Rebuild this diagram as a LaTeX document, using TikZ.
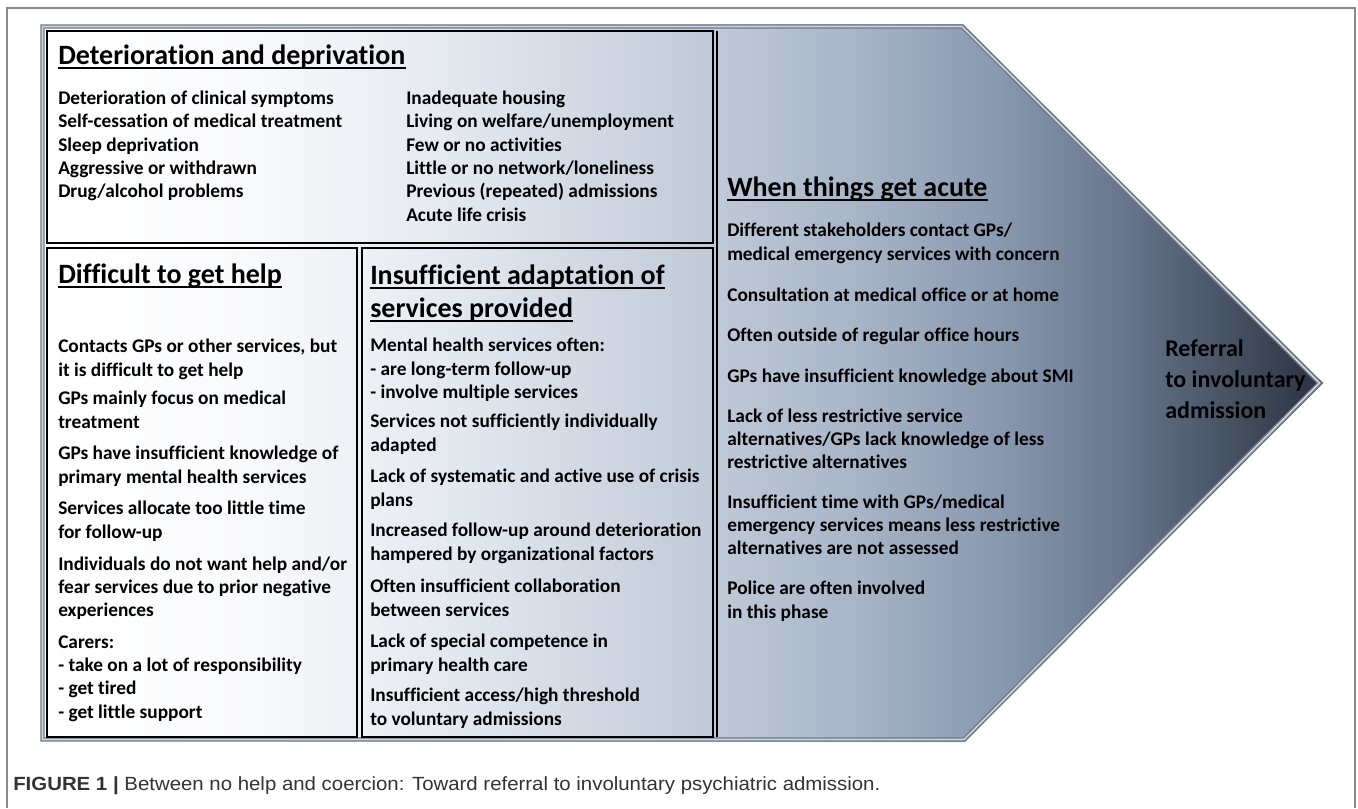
\documentclass[tikz,border=0pt]{standalone}
\usepackage{fontspec}
\setmainfont{Carlito}[Ligatures=NoCommon]
\newfontfamily\capfont[FakeStretch=1.07]{Liberation Sans}
\usetikzlibrary{positioning}
\definecolor{shA}{HTML}{F9FAFC}
\definecolor{shB}{HTML}{E4E9F0}
\definecolor{shC}{HTML}{C2CBD9}
\definecolor{shD}{HTML}{A9B6C8}
\definecolor{shE}{HTML}{8898AF}
\definecolor{shF}{HTML}{68778E}
\definecolor{shG}{HTML}{465161}
\definecolor{shH}{HTML}{2B3241}
\definecolor{bevelout}{HTML}{6E7888}
\definecolor{bevelin}{HTML}{CBD4E1}
\definecolor{framegray}{HTML}{8A8A8A}
\definecolor{captext}{HTML}{333333}
\pgfdeclarehorizontalshading{acuteshade}{100bp}{color(0bp)=(white); color(25bp)=(white);
  color(33bp)=(shA); color(41bp)=(shB); color(50.7bp)=(shC); color(56.6bp)=(shD);
  color(62.4bp)=(shE); color(67.1bp)=(shF); color(71.4bp)=(shG); color(75bp)=(shH);
  color(100bp)=(shH)}
\tikzset{
  heading/.style={anchor=base west, inner sep=0pt, font=\fontsize{21}{25}\selectfont\bfseries},
  entry/.style={anchor=base west, inner sep=0pt, align=left, font=\fontsize{14.5}{17.5}\selectfont\bfseries},
  referral/.style={anchor=base west, inner sep=0pt, align=left, font=\fontsize{18}{23.25}\selectfont\bfseries},
  caption/.style={anchor=base west, inner sep=0pt, text=captext, font=\capfont\fontsize{14.3}{16}\selectfont},
  underbar/.style={line width=1.5pt},
  rule/.style={line width=1.2pt, black},
  bevel/.style={draw=bevelout, double=bevelin, double distance=1.2pt, line width=1pt, line join=miter},
  frame/.style={draw=framegray, line width=1.1pt}
}
\begin{document}
\begin{tikzpicture}[x=0.75pt,y=-0.75pt]
  \useasboundingbox (0,0) rectangle (1358,808);
  \draw[frame] (7,808) -- (7,8) -- (1355,8) -- (1355,808);
  \path[shading=acuteshade] (40,24) -- (963,24) -- (1323,383) -- (965,742) -- (40,742) -- cycle;
  \draw[bevel] (42.5,26.5) -- (962,26.5) -- (1319.5,383) -- (964,739.5) -- (42.5,739.5) -- cycle;
  \begin{scope}[rule]
    \draw (47,31) rectangle (713,243);
    \draw (47,248) rectangle (357,737);
    \draw (362,248) rectangle (713,737);
    \draw (717,31) -- (717,737);
  \end{scope}

  % multi-line nodes sit on the baseline of their last line
  \node[heading] (hdet) at (58,64) {Deterioration and deprivation};
  \node[entry] (dleft) at (58,197.8) {Deterioration of clinical symptoms\\Self-cessation of medical treatment\\Sleep deprivation\\Aggressive or withdrawn\\Drug/alcohol problems};
  \node[entry] (dright) at (406,221.2) {Inadequate housing\\Living on welfare/unemployment\\Few or no activities\\Little or no network/loneliness\\Previous (repeated) admissions\\Acute life crisis};

  \node[heading] (hhelp) at (58,283) {Difficult to get help};
  \node[entry] (help1) at (58,376.3) {Contacts GPs or other services, but\\it is difficult to get help};
  \node[entry] (help2) at (58,428.3) {GPs mainly focus on medical\\treatment};
  \node[entry] (help3) at (58,483.3) {GPs have insufficient knowledge of\\primary mental health services};
  \node[entry] (help4) at (58,538.3) {Services allocate too little time\\for follow-up};
  \node[entry] (help5) at (58,616.7) {Individuals do not want help and/or\\fear services due to prior negative\\experiences};
  \node[entry] (help6) at (58,718) {Carers:\\- take on a lot of responsibility\\- get tired\\- get little support};

  \node[heading] (hadapt1) at (370,284) {Insufficient adaptation of};
  \node[heading] (hadapt2) at (370,317) {services provided};
  \node[entry] (adapt1) at (370,398.5) {Mental health services often:\\- are long-term follow-up\\- involve multiple services};
  \node[entry] (adapt2) at (370,451.3) {Services not sufficiently individually\\adapted};
  \node[entry] (adapt3) at (370,506.3) {Lack of systematic and active use of crisis\\plans};
  \node[entry] (adapt4) at (370,560.3) {Increased follow-up around deterioration\\hampered by organizational factors};
  \node[entry] (adapt5) at (370,616.3) {Often insufficient collaboration\\between services};
  \node[entry] (adapt6) at (370,671.3) {Lack of special competence in\\primary health care};
  \node[entry] (adapt7) at (370,725.3) {Insufficient access/high threshold\\to voluntary admissions};

  \node[heading] (hacute) at (727,196) {When things get acute};
  \node[entry] (acute1) at (727,260.3) {Different stakeholders contact GPs/\\medical emergency services with concern};
  \node[entry] (acute2) at (727,301) {Consultation at medical office or at home};
  \node[entry] (acute3) at (727,341) {Often outside of regular office hours};
  \node[entry] (acute4) at (727,382) {GPs have insufficient knowledge about SMI};
  \node[entry] (acute5) at (727,468.7) {Lack of less restrictive service\\alternatives/GPs lack knowledge of less\\restrictive alternatives};
  \node[entry] (acute6) at (727,554.7) {Insufficient time with GPs/medical\\emergency services means less restrictive\\alternatives are not assessed};
  \node[entry] (acute7) at (727,618.3) {Police are often involved\\in this phase};

  \node[referral] (refer) at (1165,418) {Referral\\to involuntary\\admission};

  \begin{scope}[underbar]
    \draw ([yshift=-3pt]hdet.base west) -- ([yshift=-3pt]hdet.base east);
    \draw ([yshift=-3pt]hhelp.base west) -- ([yshift=-3pt]hhelp.base east);
    \draw ([yshift=-3pt]hadapt1.base west) -- ([yshift=-3pt]hadapt1.base east);
    \draw ([yshift=-3pt]hadapt2.base west) -- ([yshift=-3pt]hadapt2.base east);
    \draw ([yshift=-3pt]hacute.base west) -- ([yshift=-3pt]hacute.base east);
  \end{scope}

  \node[caption] (cap) at (13,790) {\textbf{FIGURE 1 |} Between no help and coercion: Toward referral to involuntary psychiatric admission.};
\end{tikzpicture}
\end{document}
